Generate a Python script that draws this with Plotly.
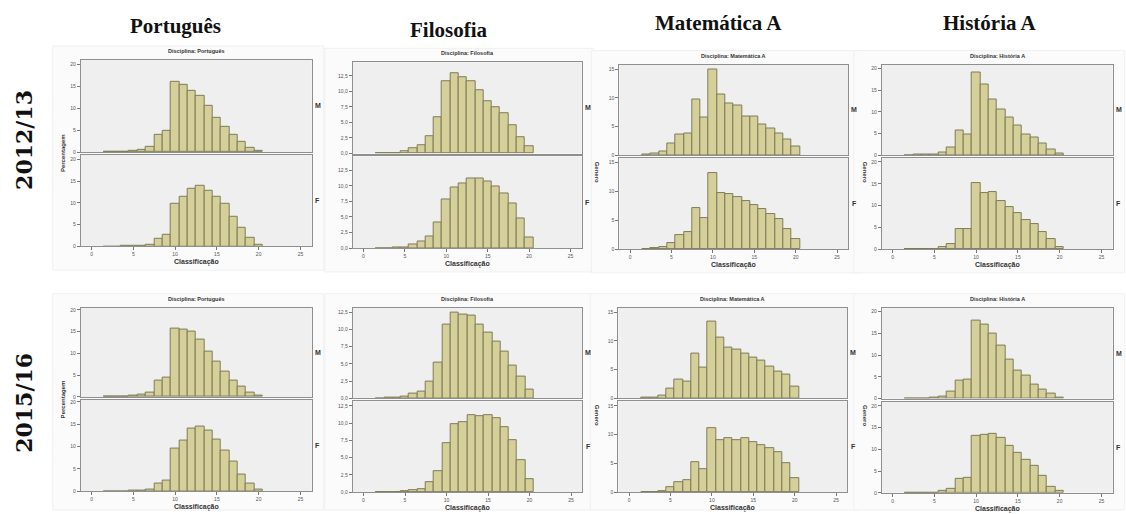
import plotly.graph_objects as go

W, H = 1126, 514

GRADES = list(range(2, 21))
SUBJECTS = ["Português", "Filosofia", "Matemática A", "História A"]
YEARS = ["2012/13", "2015/16"]
GENDERS = ["M", "F"]

# percentages per grade 2..20
port_12_M = [0.05, 0.05, 0.1, 0.2, 0.5, 1.1, 4.0, 4.8, 16.1, 15.3, 14.1, 12.8, 10.5, 7.9, 5.7, 3.9, 2.3, 1.0, 0.3]
port_12_F = [0, 0, 0.02, 0.05, 0.1, 0.3, 1.8, 2.7, 9.8, 11.4, 13.2, 13.9, 12.8, 11.4, 9.8, 6.8, 4.3, 1.9, 0.4]
filo_12_M = [0.05, 0.05, 0.1, 0.4, 0.9, 1.3, 2.8, 5.8, 11.6, 13.0, 12.3, 11.6, 10.2, 8.5, 7.5, 6.5, 4.6, 2.6, 1.1]
filo_12_F = [0, 0, 0.05, 0.1, 0.5, 1.0, 1.9, 4.1, 7.8, 9.8, 10.3, 11.2, 11.2, 10.7, 9.9, 8.8, 7.2, 4.8, 1.7]
mat_12_M = [0.05, 0.2, 0.6, 2.0, 3.6, 3.8, 9.7, 6.6, 15.0, 10.5, 9.0, 8.6, 6.7, 6.7, 5.3, 4.6, 3.7, 2.7, 1.5]
mat_12_F = [0, 0.1, 0.3, 1.0, 2.4, 3.0, 7.2, 5.3, 13.2, 9.8, 9.5, 9.1, 8.3, 7.6, 6.9, 6.1, 5.2, 3.5, 1.7]
hist_12_M = [0.02, 0.05, 0.05, 0.1, 0.5, 1.7, 5.6, 4.8, 19.0, 16.3, 12.8, 10.6, 8.6, 6.9, 4.7, 4.0, 2.7, 1.2, 0.3]
hist_12_F = [0, 0, 0.05, 0.1, 0.5, 1.2, 4.5, 4.5, 15.1, 12.9, 13.2, 11.0, 9.7, 8.2, 6.7, 5.8, 4.0, 2.2, 0.5]
port_15_M = [0, 0.05, 0.1, 0.2, 0.5, 0.9, 3.7, 4.4, 15.6, 15.4, 15.0, 13.2, 10.4, 8.2, 5.7, 3.7, 2.4, 1.1, 0.4]
port_15_F = [0, 0, 0, 0.05, 0.1, 0.3, 1.6, 2.3, 9.5, 11.4, 14.0, 14.5, 13.5, 11.6, 9.1, 6.7, 3.7, 1.7, 0.4]
filo_15_M = [0, 0.05, 0.1, 0.2, 0.7, 1.0, 2.4, 5.2, 10.7, 12.4, 12.2, 12.1, 10.7, 9.6, 8.2, 6.8, 4.8, 3.2, 1.3]
filo_15_F = [0, 0, 0.05, 0.1, 0.3, 0.5, 1.4, 3.1, 7.1, 9.8, 10.1, 11.1, 11.0, 11.1, 10.8, 9.4, 7.5, 4.7, 1.9]
mat_15_M = [0.05, 0.1, 0.5, 1.6, 3.2, 2.9, 7.8, 5.4, 13.3, 10.5, 8.8, 8.5, 7.8, 7.0, 6.6, 5.5, 4.7, 4.2, 2.0]
mat_15_F = [0, 0.05, 0.2, 0.8, 1.7, 2.1, 5.2, 4.0, 11.1, 9.0, 9.3, 9.0, 9.3, 8.7, 8.2, 7.7, 7.0, 5.0, 2.4]
hist_15_M = [0, 0.05, 0.1, 0.2, 0.5, 1.6, 4.2, 4.4, 18.0, 17.1, 14.9, 12.1, 9.0, 6.4, 5.2, 3.2, 2.0, 1.1, 0.3]
hist_15_F = [0, 0, 0.05, 0.1, 0.5, 1.0, 3.1, 3.4, 13.1, 13.4, 13.6, 12.7, 10.9, 9.2, 7.6, 6.1, 3.9, 1.4, 0.4]

X_TICKS = [0, 5, 10, 15, 20, 25]
Y_TICKS_INT20 = [0, 5, 10, 15, 20]
Y_TICKS_FILO = [0, 2.5, 5, 7.5, 10, 12.5]
Y_TICKS_MAT = [0, 5, 10, 15]

DATA = {
    (0, 0): (port_12_M, port_12_F), (0, 1): (filo_12_M, filo_12_F),
    (0, 2): (mat_12_M, mat_12_F), (0, 3): (hist_12_M, hist_12_F),
    (1, 0): (port_15_M, port_15_F), (1, 1): (filo_15_M, filo_15_F),
    (1, 2): (mat_15_M, mat_15_F), (1, 3): (hist_15_M, hist_15_F),
}

# panel geometry in pixels: left, right, Mtop, Mbottom, Ftop, Fbottom
GEOM = {
    (0, 0): (80.7, 311.7, 59.3, 152.3, 155.0, 247.3),
    (0, 1): (352.7, 581.7, 61.7, 153.7, 156.7, 249.0),
    (0, 2): (619.3, 848.3, 64.0, 155.3, 158.3, 250.0),
    (0, 3): (881.7, 1112.7, 64.0, 155.3, 158.3, 250.0),
    (1, 0): (80.7, 311.7, 309.0, 399.0, 401.7, 494.0),
    (1, 1): (352.7, 582.3, 309.0, 400.3, 403.3, 495.0),
    (1, 2): (618.3, 847.3, 309.0, 400.3, 403.3, 495.0),
    (1, 3): (881.7, 1112.7, 309.0, 400.7, 404.0, 495.7),
}
YMAX = {
    (0, 0): 21.1, (0, 1): 14.7, (0, 2): 15.8, (0, 3): 20.9,
    (1, 0): 20.5, (1, 1): 13.2, (1, 2): 15.8, (1, 3): 20.9,
}
XRANGE = [-1.3, 26.35]


def px(x):
    return x / W


def py(y):
    return 1 - y / H


fig = go.Figure()
layout = {}
annotations = []
shapes = []

BAR_COLOR = "#d5d09a"
BAR_LINE = "#7f7b57"
AX_LINE = "#8f8f8f"
PLOT_BG = "#efefef"
TICK_FONT = dict(family="Liberation Sans, Arial", size=5, color="#555555")
LBL_FONT = dict(family="Liberation Sans, Arial", size=7, color="#333333")

n = 0
for (r, c), (mv, fv) in DATA.items():
    left, right, mt, mb, ft, fb = GEOM[(r, c)]
    ymax = YMAX[(r, c)]
    if c == 1:
        yt = Y_TICKS_FILO
        ytt = [("%.1f" % v).replace(".", ",") for v in yt]
    elif c == 2:
        yt = Y_TICKS_MAT
        ytt = [str(v) for v in yt]
    else:
        yt = Y_TICKS_INT20
        ytt = [str(v) for v in yt]
    # background of the screenshot
    shapes.append(dict(type="rect", xref="paper", yref="paper",
                       x0=px(left - 28), x1=px(min(right + 12, W - 1)),
                       y0=py(min(fb + 24, H - 1)), y1=py(mt - 14),
                       fillcolor="#fbfbfb", line=dict(color="#f0f0f0", width=1),
                       layer="below"))
    for g, vals, top, bot in (("M", mv, mt, mb), ("F", fv, ft, fb)):
        n += 1
        xa = "x%d" % n
        ya = "y%d" % n
        shapes.append(dict(type="rect", xref="paper", yref="paper",
                           x0=px(left), x1=px(right), y0=py(bot), y1=py(top),
                           fillcolor=PLOT_BG, line=dict(width=0), layer="below"))
        fig.add_trace(go.Bar(x=GRADES, y=vals, width=1, xaxis=xa, yaxis=ya,
                             marker=dict(color=BAR_COLOR, line=dict(color=BAR_LINE, width=1)),
                             showlegend=False, hoverinfo="x+y"))
        is_f = g == "F"
        layout["xaxis%d" % n] = dict(
            domain=[px(left), px(right)], anchor=ya, range=XRANGE,
            showline=True, mirror=True, linecolor=AX_LINE, linewidth=1,
            showgrid=False, zeroline=False,
            ticks="outside" if is_f else "", ticklen=3, tickcolor="#777777",
            tickvals=X_TICKS, showticklabels=is_f, tickfont=TICK_FONT,
        )
        layout["yaxis%d" % n] = dict(
            domain=[py(bot), py(top)], anchor=xa, range=[0, ymax],
            showline=True, mirror=True, linecolor=AX_LINE, linewidth=1,
            showgrid=False, zeroline=False,
            ticks="outside", ticklen=3, tickcolor="#777777",
            tickvals=yt, ticktext=ytt, tickfont=TICK_FONT,
        )
        annotations.append(dict(text="<b>%s</b>" % g, x=px(right + 6), y=py((top + bot) / 2),
                                xref="paper", yref="paper", showarrow=False,
                                font=LBL_FONT, xanchor="center", yanchor="middle"))
    annotations.append(dict(text="<b>Disciplina: %s</b>" % SUBJECTS[c],
                            x=px((left + right) / 2), y=py(mt - 4),
                            xref="paper", yref="paper", showarrow=False,
                            font=dict(family="Liberation Sans, Arial", size=5.5, color="#333333"),
                            xanchor="center", yanchor="bottom"))
    annotations.append(dict(text="<b>Classificação</b>",
                            x=px((left + right) / 2), y=py(fb + 16),
                            xref="paper", yref="paper", showarrow=False,
                            font=LBL_FONT, xanchor="center", yanchor="middle"))
    if c == 0:
        annotations.append(dict(text="<b>Percentagem</b>", x=px(63), y=py((mt + fb) / 2),
                                xref="paper", yref="paper", showarrow=False, textangle=-90,
                                font=dict(family="Liberation Sans, Arial", size=6, color="#333333"),
                                xanchor="center", yanchor="middle"))
    if c in (2, 3):
        gx = 597 if c == 2 else 865
        annotations.append(dict(text="<b>Genero</b>", x=px(gx), y=py((mt + fb) / 2 + 15),
                                xref="paper", yref="paper", showarrow=False, textangle=90,
                                font=dict(family="Liberation Sans, Arial", size=6, color="#333333"),
                                xanchor="center", yanchor="middle"))

HEAD_FONT = dict(family="Liberation Serif, DejaVu Serif, serif", size=21, color="#111111")
HEAD_POS = [(175, 25), (448, 29), (718, 22), (990, 22)]
for s, (hx, hy) in zip(SUBJECTS, HEAD_POS):
    annotations.append(dict(text="<b>%s</b>" % s, x=px(hx), y=py(hy), xref="paper", yref="paper",
                            showarrow=False, font=HEAD_FONT, xanchor="center", yanchor="middle"))
for yr, cy in zip(YEARS, (140, 405)):
    annotations.append(dict(text="<b>%s</b>" % yr, x=px(24), y=py(cy), xref="paper", yref="paper",
                            showarrow=False, textangle=-90,
                            font=dict(family="DejaVu Serif, serif", size=22, color="#111111"),
                            xanchor="center", yanchor="middle"))

fig.update_layout(
    width=W, height=H, margin=dict(l=0, r=0, t=0, b=0),
    paper_bgcolor="white", plot_bgcolor="rgba(0,0,0,0)",
    bargap=0, annotations=annotations, shapes=shapes, **layout,
)
fig.write_html("out.html", config={"displayModeBar": False},
               post_script="document.body.style.margin='0';document.body.style.overflow='hidden';")
